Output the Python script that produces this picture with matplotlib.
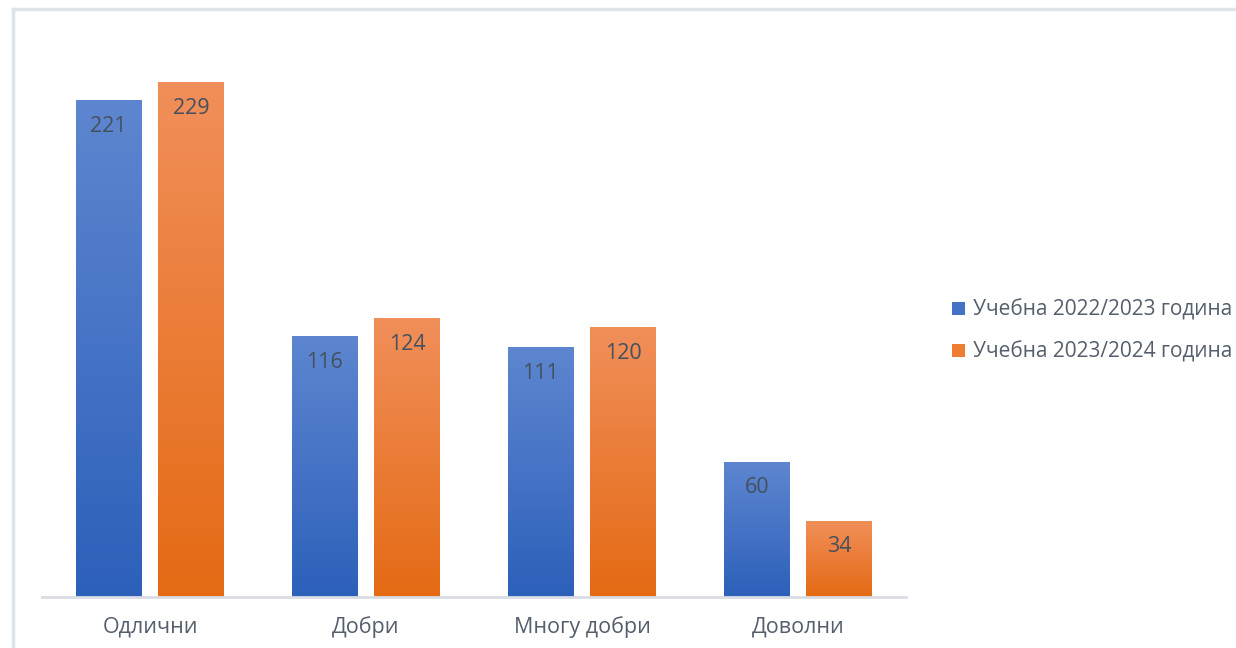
import numpy as np
import matplotlib
matplotlib.use("Agg")
import matplotlib.pyplot as plt
from matplotlib.colors import LinearSegmentedColormap
from matplotlib.lines import Line2D
from matplotlib.patches import Patch

categories = ["Одлични", "Добри", "Многу добри", "Доволни"]
series_names = ["Учебна 2022/2023 година", "Учебна 2023/2024 година"]
values_2223 = [221, 116, 111, 60]
values_2324 = [229, 124, 120, 34]

plt.rcParams['font.family'] = ['Open Sans', 'DejaVu Sans']
text_color = "#545e6c"

fig = plt.figure(figsize=(12.36, 6.48), dpi=100)
W, H = 1236, 648
# plot area in pixels: x 42..906, baseline y 597
ax = fig.add_axes([42 / W, (H - 597) / H, 864 / W, (597 - 35) / H])

x = np.arange(len(categories))
bw = 0.305
off = 0.1915

grads = [("#5E86D0", "#2D60BA"), ("#F18F5A", "#E46A14")]
solid = ["#4472C4", "#ED7D31"]

for i, (vals, (ctop, cbot)) in enumerate(zip([values_2223, values_2324], grads)):
    pos = x - off if i == 0 else x + off
    bars = ax.bar(pos, vals, width=bw, color="none", edgecolor="none", zorder=2)
    cmap = LinearSegmentedColormap.from_list("g%d" % i, [cbot, ctop])
    for b, v in zip(bars, vals):
        grad = np.linspace(0, 1, 256).reshape(-1, 1)
        im = ax.imshow(grad, cmap=cmap, aspect="auto", origin="lower",
                       extent=[b.get_x(), b.get_x() + b.get_width(), 0, v], zorder=2)
        im.set_clip_path(b)
        ax.text(b.get_x() + b.get_width() / 2, v - 11.5, str(v), ha="center", va="center",
                fontsize=15.5, color="#44505e", zorder=3)

ax.set_xlim(-0.5, 3.5)
ax.set_ylim(0, 250)
ax.set_yticks([])
ax.set_xticks(x)
ax.set_xticklabels(categories, fontsize=15.5, color=text_color)
ax.tick_params(axis="x", length=0, pad=14)
for s in ["top", "right", "left"]:
    ax.spines[s].set_visible(False)
ax.spines["bottom"].set_color("#d9dde3")
ax.spines["bottom"].set_linewidth(2)
ax.patch.set_alpha(0)

handles = [Patch(facecolor=c, edgecolor="none") for c in solid]
fig.legend(handles, series_names, loc="center left", bbox_to_anchor=(944 / W, (H - 331) / H),
           frameon=False, fontsize=15, labelcolor=text_color, handlelength=0.6,
           handleheight=0.6, handletextpad=0.4, labelspacing=1.0, borderaxespad=0)

# light frame on the left and top
fig.add_artist(Line2D([12.5 / W, 12.5 / W], [0, (H - 9) / H], color="#dfe3ea", lw=2.5,
                      transform=fig.transFigure))
fig.add_artist(Line2D([12.5 / W, 1], [(H - 9) / H, (H - 9) / H], color="#dfe3ea", lw=2.5,
                      transform=fig.transFigure))

fig.savefig("out.png", dpi=100)
